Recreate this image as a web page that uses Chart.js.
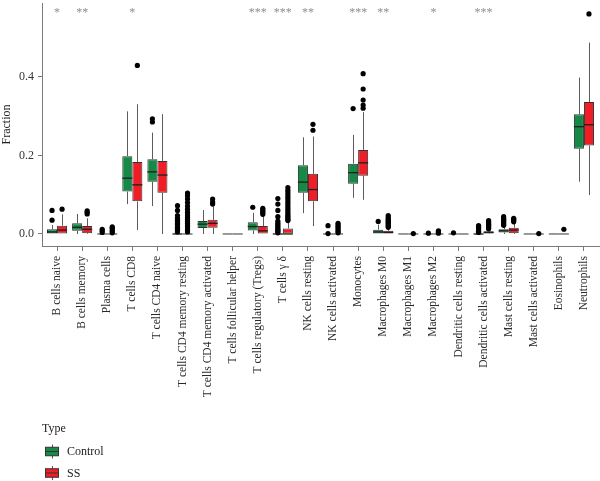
<!DOCTYPE html>
<html><head><meta charset="utf-8">
<script src="https://cdn.jsdelivr.net/npm/chart.js@4.4.0/dist/chart.umd.min.js"></script>
<style>html,body{margin:0;padding:0;background:#fff}canvas{display:block}
#fw{position:absolute;left:-9999px;top:0;font-family:'Liberation Serif','Times New Roman',serif;font-size:12px}</style>
</head><body>
<canvas id="c" width="600" height="481" style="width:600px;height:481px"></canvas>
<span id="fw">Fraction Type Control SS γ δ 0.4 *</span>
<script>
const categories = ['B cells naive','B cells memory','Plasma cells','T cells CD8','T cells CD4 naive','T cells CD4 memory resting','T cells CD4 memory activated','T cells follicular helper','T cells regulatory (Tregs)','T cells \u03b3 \u03b4','NK cells resting','NK cells activated','Monocytes','Macrophages M0','Macrophages M1','Macrophages M2','Dendritic cells resting','Dendritic cells activated','Mast cells resting','Mast cells activated','Eosinophils','Neutrophils'];
const significance = ['*','**','','*','','','','','***','***','**','','***','**','','*','','***','','','',''];
const seriesNames = ['Control','SS'];
const yTickValues = [0, 0.2, 0.4];
const yTickLabels = ['0.0','0.2','0.4'];

const controlMin    = [0, 0, 0, 0.076, 0.071, 0, 0, 0, 0, 0, 0.053, 0, 0.092, 0, 0, 0, 0, 0, 0, 0, 0, 0.133];
const controlQ1     = [0, 0.008, 0, 0.108, 0.133, 0, 0.015, 0, 0.009, 0, 0.105, 0, 0.128, 0, 0, 0, 0, 0, 0.004, 0, 0, 0.217];
const controlMedian = [0.005, 0.017, 0, 0.142, 0.158, 0, 0.025, 0, 0.019, 0, 0.132, 0, 0.156, 0.005, 0, 0, 0, 0, 0.008, 0, 0, 0.273];
const controlQ3     = [0.012, 0.027, 0, 0.198, 0.190, 0.001, 0.033, 0, 0.030, 0.001, 0.175, 0, 0.179, 0.011, 0, 0, 0, 0.001, 0.012, 0, 0, 0.305];
const controlMax    = [0.023, 0.051, 0, 0.312, 0.258, 0.002, 0.061, 0, 0.054, 0.002, 0.246, 0, 0.252, 0.024, 0, 0, 0, 0.002, 0.019, 0, 0, 0.398];
const controlOutliers = [
  [0.035, 0.060],
  [],
  [0.004, 0.008, 0.012],
  [],
  [0.285, 0.293],
  [0.072, 0.060, 0.047, 0.040, 0.035, 0.031, 0.027, 0.024, 0.020, 0.017, 0.014, 0.011, 0.008, 0.005],
  [],
  [],
  [0.068],
  [0.090, 0.076, 0.060, 0.044, 0.033, 0.028, 0.024, 0.020, 0.016, 0.012, 0.009, 0.006, 0.003],
  [],
  [0.001, 0.021],
  [0.319],
  [0.032],
  [],
  [0.002],
  [0.003],
  [0.004, 0.007, 0.010, 0.013, 0.016, 0.019, 0.021],
  [0.022, 0.025, 0.028, 0.031, 0.034, 0.037, 0.040, 0.044],
  [],
  [],
  []
];

const ssMin    = [0, 0, 0, 0.010, 0, 0, 0, 0, 0, 0, 0.020, 0, 0.087, 0, 0, 0, 0, 0, 0, 0, 0, 0.099];
const ssQ1     = [0, 0.002, 0, 0.083, 0.105, 0, 0.016, 0, 0, 0, 0.083, 0, 0.148, 0, 0, 0, 0, 0.001, 0.002, 0, 0, 0.225];
const ssMedian = [0.010, 0.012, 0, 0.125, 0.150, 0, 0.027, 0, 0.008, 0, 0.113, 0, 0.181, 0.004, 0, 0, 0, 0.004, 0.010, 0, 0, 0.278];
const ssQ3     = [0.021, 0.020, 0, 0.183, 0.186, 0, 0.036, 0, 0.020, 0.014, 0.153, 0, 0.214, 0.008, 0, 0, 0, 0.007, 0.016, 0, 0, 0.336];
const ssMax    = [0.050, 0.040, 0, 0.330, 0.305, 0.002, 0.070, 0, 0.046, 0.032, 0.248, 0, 0.310, 0.014, 0, 0, 0, 0.010, 0.027, 0, 0, 0.487];
const ssOutliers = [
  [0.063],
  [0.051, 0.055, 0.059],
  [0.003, 0.007, 0.011, 0.015, 0.018],
  [0.429],
  [],
  [0.104, 0.097, 0.089, 0.080, 0.071, 0.063, 0.055, 0.048, 0.042, 0.037, 0.032, 0.027, 0.023, 0.019, 0.015, 0.011, 0.008, 0.005],
  [0.076, 0.081, 0.089],
  [],
  [0.050, 0.054, 0.058, 0.062, 0.065],
  [0.118, 0.111, 0.105, 0.099, 0.093, 0.087, 0.081, 0.075, 0.069, 0.064, 0.059, 0.054, 0.049, 0.045, 0.041, 0.037, 0.034],
  [0.264, 0.279],
  [0.003, 0.007, 0.011, 0.015, 0.019, 0.023, 0.027],
  [0.320, 0.328, 0.341, 0.369, 0.408],
  [0.017, 0.020, 0.023, 0.026, 0.029, 0.032, 0.035, 0.038, 0.042, 0.047],
  [0.001],
  [0.002, 0.004, 0.006, 0.008],
  [],
  [0.013, 0.016, 0.019, 0.022, 0.025, 0.028, 0.031, 0.034],
  [0.031, 0.034, 0.037, 0.040],
  [0.001],
  [0.012],
  [0.560]
];

const SERIF = "'Liberation Serif', 'Times New Roman', 'DejaVu Serif', serif";
const GREEN = '#158a47';
const RED = '#ee1d26';
const AXIS = '#7a7a7a';

const stats = [
  {min: controlMin, q1: controlQ1, med: controlMedian, q3: controlQ3, max: controlMax, out: controlOutliers},
  {min: ssMin, q1: ssQ1, med: ssMedian, q3: ssQ3, max: ssMax, out: ssOutliers}
];

function seg(ctx, x1, y1, x2, y2) { ctx.beginPath(); ctx.moveTo(x1, y1); ctx.lineTo(x2, y2); ctx.stroke(); }

const boxplotPlugin = {
  id: 'boxplotExtras',
  afterDatasetsDraw(chart) {
    const ctx = chart.ctx, ys = chart.scales.y;
    const py = v => ys.getPixelForValue(v);
    stats.forEach((s, di) => {
      const meta = chart.getDatasetMeta(di);
      meta.data.forEach((bar, i) => {
        const cx = Math.round(bar.x) + 0.5, hw = bar.width / 2;
        ctx.save();
        ctx.strokeStyle = '#5c5c5c'; ctx.lineWidth = 1;
        if (s.max[i] > s.q3[i]) seg(ctx, cx, py(s.q3[i]), cx, py(s.max[i]));
        if (s.min[i] < s.q1[i]) seg(ctx, cx, py(s.q1[i]), cx, py(s.min[i]));
        const flat = s.q1[i] === s.q3[i];
        ctx.strokeStyle = flat ? '#808080' : '#1e1e1e';
        ctx.lineWidth = flat ? 1.6 : 1.3;
        const ym = py(s.med[i]);
        seg(ctx, bar.x - hw, ym, bar.x + hw, ym);
        ctx.fillStyle = '#000';
        s.out[i].forEach(v => { ctx.beginPath(); ctx.arc(bar.x, py(v), 2.6, 0, Math.PI * 2); ctx.fill(); });
        ctx.restore();
      });
    });
  },
  afterDraw(chart) {
    const ctx = chart.ctx, xs = chart.scales.x;
    ctx.save();
    ctx.font = '12px ' + SERIF;
    ctx.fillStyle = '#8e8e8e';
    ctx.textAlign = 'center';
    ctx.textBaseline = 'alphabetic';
    significance.forEach((t, i) => { if (t) ctx.fillText(t, xs.getPixelForValue(i), 15.5); });
    ctx.fillStyle = '#222';
    ctx.textAlign = 'left';
    ctx.textBaseline = 'middle';
    ctx.fillText('Type', 42, 429);
    const items = [{c: GREEN, y: 451.5}, {c: RED, y: 473}];
    items.forEach((it, k) => {
      const x0 = 45, w = 14, h = 8.5, cx = 52.5;
      ctx.strokeStyle = '#555'; ctx.lineWidth = 1;
      seg(ctx, cx, it.y - 7, cx, it.y + 7);
      ctx.fillStyle = it.c;
      ctx.fillRect(x0, it.y - h / 2, w, h);
      ctx.strokeStyle = '#333';
      ctx.strokeRect(x0 + 0.5, it.y - h / 2, w - 1, h);
      seg(ctx, x0, it.y, x0 + w, it.y);
      ctx.fillStyle = '#222';
      ctx.fillText(seriesNames[k], 67, it.y + 0.5);
    });
    ctx.restore();
  }
};

function draw() {
  new Chart(document.getElementById('c'), {
    type: 'bar',
    data: {
      labels: categories,
      datasets: [
        {label: seriesNames[0], data: categories.map((_, i) => [controlQ1[i], controlQ3[i]]), backgroundColor: GREEN, borderColor: '#333', borderWidth: 1, borderSkipped: false, categoryPercentage: 0.8, barPercentage: 1.0},
        {label: seriesNames[1], data: categories.map((_, i) => [ssQ1[i], ssQ3[i]]), backgroundColor: RED, borderColor: '#333', borderWidth: 1, borderSkipped: false, categoryPercentage: 0.8, barPercentage: 1.0}
      ]
    },
    options: {
      responsive: false,
      animation: false,
      layout: {padding: {left: 0, right: 1, top: 3, bottom: 0}},
      plugins: {legend: {display: false}, tooltip: {enabled: false}},
      scales: {
        x: {
          offset: false,
          afterBuildTicks: s => { s._startValue = -0.6; s._valueRange = categories.length - 1 + 1.2; },
          afterFit: s => { s.height = 235; s.paddingLeft = 0; s.paddingRight = 0; s.paddingTop = 0; s.paddingBottom = 0; },
          ticks: {autoSkip: false, maxRotation: 90, minRotation: 90, font: {family: SERIF, size: 11.5}, color: '#2a2a2a', padding: 5},
          grid: {drawOnChartArea: false, drawTicks: true, tickLength: 5, color: AXIS, offset: false},
          border: {display: true, color: AXIS, width: 1}
        },
        y: {
          min: -0.0306,
          max: 0.5878,
          afterBuildTicks: s => { s.ticks = yTickValues.map(v => ({value: v})); },
          afterFit: s => { s.width = 42; s.paddingTop = 0; s.paddingBottom = 0; s.paddingLeft = 0; s.paddingRight = 0; },
          ticks: {callback: (v, i) => yTickLabels[i], font: {family: SERIF, size: 12}, color: '#333', padding: 4},
          grid: {drawOnChartArea: false, drawTicks: true, tickLength: 4, color: AXIS},
          border: {display: true, color: AXIS, width: 1},
          title: {display: true, text: 'Fraction', font: {family: SERIF, size: 12}, color: '#222', padding: {top: 0, bottom: 0}}
        }
      }
    },
    plugins: [boxplotPlugin]
  });
}

const fontLoads = document.fonts && document.fonts.load
  ? Promise.all([
      document.fonts.load('12px "Liberation Serif"'),
      document.fonts.load('12px "Times New Roman"'),
      document.fonts.load('12px "DejaVu Serif"')
    ]).catch(() => {})
  : Promise.resolve();
fontLoads.then(draw, draw);
</script>
</body></html>
